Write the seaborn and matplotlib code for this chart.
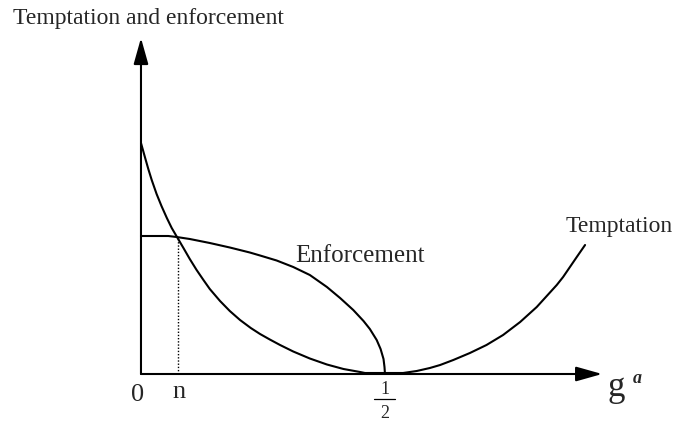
import matplotlib
matplotlib.use("Agg")
import matplotlib.pyplot as plt
import numpy as np
import pandas as pd
import seaborn as sns

# Temptation curve: falls from its peak at g=0 to zero around g=1/2, then rises again
temptation_g = [0.000, 0.008, 0.015, 0.022, 0.032, 0.042, 0.053, 0.063, 0.075,
                0.087, 0.100, 0.114, 0.128, 0.141, 0.162, 0.182, 0.203, 0.225,
                0.244, 0.264, 0.285, 0.312, 0.346, 0.381, 0.415, 0.449, 0.459,
                0.500, 0.537, 0.565, 0.592, 0.613, 0.640, 0.674, 0.708, 0.742,
                0.777, 0.811, 0.852, 0.865, 0.879, 0.893, 0.910]
temptation_v = [2.31, 2.17, 2.05, 1.94, 1.80, 1.68, 1.56, 1.46, 1.36,
                1.26, 1.15, 1.04, 0.94, 0.85, 0.73, 0.63, 0.54, 0.46,
                0.40, 0.345, 0.29, 0.225, 0.155, 0.095, 0.05, 0.02, 0.01,
                0.01, 0.01, 0.03, 0.06, 0.09, 0.14, 0.21, 0.29, 0.39,
                0.52, 0.67, 0.89, 0.97, 1.07, 1.17, 1.29]

# Enforcement curve: nearly flat at first, collapsing to zero at g=1/2
enforcement_g = [0.000, 0.056, 0.073, 0.100, 0.141, 0.182, 0.223, 0.244, 0.278,
                 0.312, 0.346, 0.381, 0.408, 0.435, 0.456, 0.469, 0.483, 0.491,
                 0.497, 0.499, 0.500]
enforcement_v = [1.38, 1.38, 1.37, 1.35, 1.31, 1.265, 1.215, 1.185, 1.135,
                 1.07, 0.99, 0.87, 0.76, 0.64, 0.53, 0.45, 0.34, 0.25,
                 0.15, 0.07, 0.00]

# Marked points on the g axis
n_point = 0.076
half_point = 0.5

df_t = pd.DataFrame({"g": temptation_g, "value": temptation_v})
df_e = pd.DataFrame({"g": enforcement_g, "value": enforcement_v})

sns.set_style("white")
plt.rcParams["font.family"] = ["Liberation Serif", "DejaVu Serif"]

fig = plt.figure(figsize=(6.81, 4.30), dpi=100)
ax = fig.add_axes([0, 0, 1, 1])
ax.set_xlim(-0.2889, 1.1066)
ax.set_ylim(-0.56, 3.74)
ax.axis("off")

line_kw = dict(color="black", linewidth=1.5, sort=False, estimator=None)
sns.lineplot(data=df_t, x="g", y="value", ax=ax, **line_kw)
sns.lineplot(data=df_e, x="g", y="value", ax=ax, **line_kw)

# Dotted guide at the crossing point n
ax.plot([n_point, n_point], [0, np.interp(n_point, enforcement_g, enforcement_v)],
        color="black", linestyle=(0, (1, 1.3)), linewidth=1.0)

# Axes drawn as arrows
arrow_kw = dict(arrowstyle="-|>,head_length=1.6,head_width=0.45",
                color="black", linewidth=1.5, mutation_scale=10,
                shrinkA=0, shrinkB=0)
ax.annotate("", xy=(0, 3.36), xytext=(0, 0), arrowprops=arrow_kw)
ax.annotate("", xy=(0.945, 0), xytext=(0, 0), arrowprops=arrow_kw)

# Labels
ax.text(-0.262, 3.50, "Temptation and enforcement", fontsize=17,
        ha="left", va="baseline")
ax.text(0.3156, 1.12, "Enforcement", fontsize=18, ha="left", va="baseline")
ax.text(0.979, 1.42, "Temptation", fontsize=17, ha="center", va="baseline")

ax.text(-0.007, -0.21, "0", fontsize=19, ha="center", va="center")
ax.text(n_point + 0.002, -0.24, "n", fontsize=19, ha="center", va="baseline")

# 1/2 written as a stacked fraction
ax.text(half_point, -0.15, "1", fontsize=13, ha="center", va="center")
ax.plot([half_point - 0.022, half_point + 0.02], [-0.25, -0.25],
        color="black", linewidth=0.9)
ax.text(half_point, -0.40, "2", fontsize=13, ha="center", va="center")

ax.text(0.973, -0.22, "g", fontsize=25, ha="center", va="baseline")
ax.text(1.016, -0.09, "a", fontsize=13, ha="center", va="baseline",
        fontweight="bold", fontstyle="italic")

fig.savefig("out.png", dpi=100)
